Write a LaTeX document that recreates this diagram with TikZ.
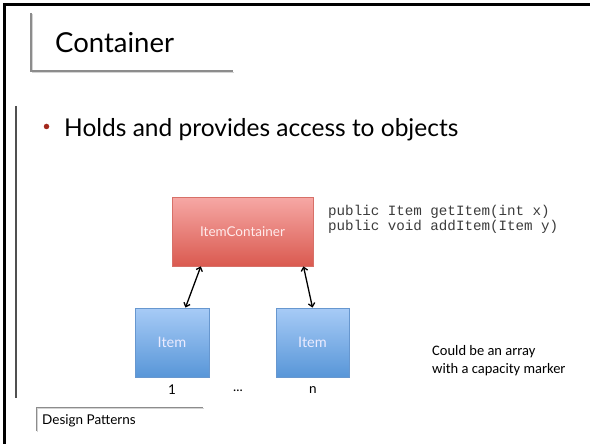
\documentclass[tikz,border=0pt]{standalone}
\usepackage{fontspec}
\setmainfont{Lato}
\newfontfamily\notefont{Carlito}
\setmonofont{Liberation Mono}
\usetikzlibrary{arrows.meta,shadows,calc}

\definecolor{rulegrey}{HTML}{8C8C8C}
\definecolor{ruleshade}{HTML}{D4D4D4}
\definecolor{sidegrey}{HTML}{505050}
\definecolor{bulletred}{HTML}{A3281C}
\definecolor{codegrey}{HTML}{3C3C3C}
\definecolor{redtop}{HTML}{F6A8A5}
\definecolor{redbot}{HTML}{DA5A50}
\definecolor{redline}{HTML}{D77068}
\definecolor{bluetop}{HTML}{A7CBF6}
\definecolor{bluebot}{HTML}{5896D8}
\definecolor{blueline}{HTML}{6797CF}

\tikzset{
  slide rule/.style={draw=rulegrey, line width=1.2pt},
  rule shade/.style={draw=ruleshade, line width=1pt},
  classbox/.style={rectangle, inner sep=0pt, line width=0.8pt,
    drop shadow={opacity=0.25, shadow xshift=1.2pt, shadow yshift=-1.2pt},
    font=\fontsize{13.5}{15}\selectfont},
  redbox/.style={classbox, draw=redline, top color=redtop, bottom color=redbot,
    text=white!92!red, minimum width=141pt, minimum height=69pt},
  bluebox/.style={classbox, draw=blueline, top color=bluetop, bottom color=bluebot,
    text=white!92!blue, minimum width=74pt, minimum height=69pt,
    font=\fontsize{14.5}{16}\selectfont},
  link/.style={line width=1.3pt,
    {Straight Barb[length=3.5pt,width=6.5pt]}-{Straight Barb[length=3.5pt,width=6.5pt]}},
  codeline/.style={anchor=base west, inner sep=0pt, text=codegrey,
    font=\ttfamily\fontsize{14.2}{15}\selectfont},
  idx/.style={inner sep=0pt, font=\fontsize{13.5}{15}\selectfont},
}

\begin{document}
\begin{tikzpicture}[x=1pt,y=-1pt]
\useasboundingbox (0,0) rectangle (590,444);
\fill[white] (0,0) rectangle (590,444);

% slide frame (top and left edges)
\draw[line width=2.6pt, black] (4.3,444) -- (4.3,4.3) -- (590,4.3);

% title and its corner rule
\draw[rule shade] (32.5,14) -- (32.5,72.5) -- (234,72.5);
\draw[slide rule] (31,13) -- (31,71) -- (233,71);
\node[anchor=base west, inner sep=0pt, font=\fontsize{27.5}{32}\selectfont] (title) at (55,53) {Container};

% left content rule
\draw[draw=sidegrey, line width=1.4pt] (16,106) -- (16,398);

% bullet line
\node[circle, fill=bulletred, inner sep=0pt, minimum size=5.5pt] (dot) at (46.5,126.5) {};
\node[anchor=base west, inner sep=0pt, font=\fontsize{24.5}{30}\selectfont] (bullet) at (64,137) {Holds and provides access to objects};

% container and items
\node[redbox] (ic) at (242.5,231.5) {ItemContainer};
\node[bluebox] (i1) at (172,342.5) {Item};
\node[bluebox, minimum width=73pt] (i2) at (312.5,342.5) {Item};

\draw[link] ($(ic.south west)!0.206!(ic.south east)$) -- ($(i1.north west)!0.68!(i1.north east)$);
\draw[link] ($(ic.south west)!0.93!(ic.south east)$) -- ($(i2.north west)!0.5!(i2.north east)$);

% indices under the items
\node[idx] (n1) at (172,390) {1};
\node[idx] (dots) at (238,391) {...};
\node[idx] (nn) at (313,390) {n};

% method signatures
\node[codeline] (m1) at (328,215) {public Item getItem(int x)};
\node[codeline] (m2) at (328,230) {public void addItem(Item y)};

% side note
\node[anchor=base west, inner sep=0pt, align=left, font=\notefont\fontsize{14.5}{17.5}\selectfont] (note) at (432,373) {Could be an array\\with a capacity marker};

% footer
\draw[rule shade] (37.5,432) -- (37.5,408.5) -- (204,408.5);
\draw[slide rule, line width=1pt] (36,431) -- (36,407) -- (203,407);
\node[anchor=base west, inner sep=0pt, font=\fontsize{13.5}{15}\selectfont] (footer) at (42,424) {Design Patterns};
\end{tikzpicture}
\end{document}
